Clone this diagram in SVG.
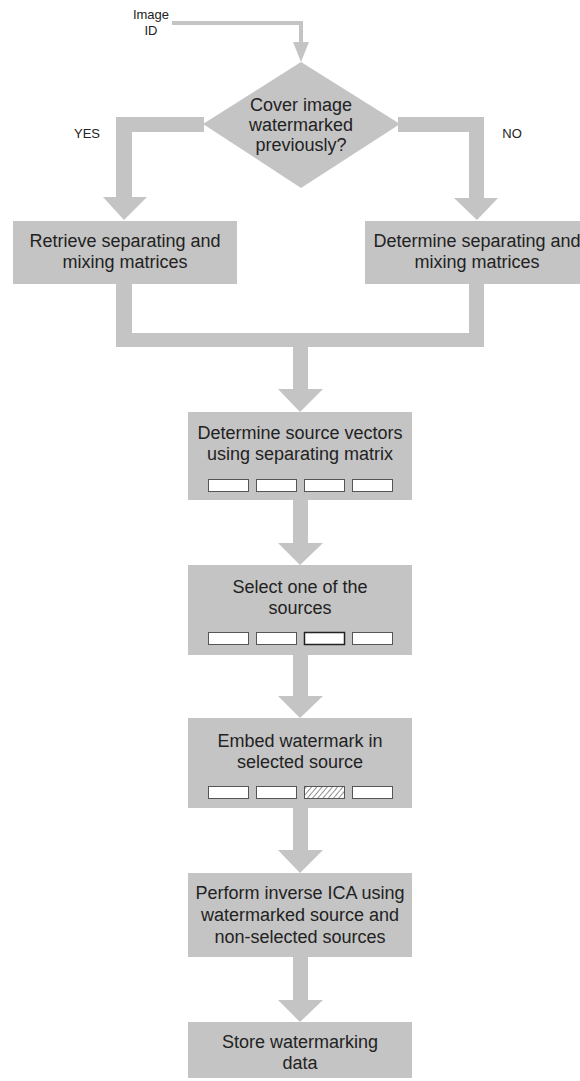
<svg xmlns="http://www.w3.org/2000/svg" width="580" height="1081" viewBox="0 0 580 1081">
<style>
.box{fill:#c4c4c4}
.con{fill:#c4c4c4}
.t{font-family:"Liberation Sans",Arial,sans-serif;font-size:18px;fill:#222;text-anchor:middle}
.s{font-family:"Liberation Sans",Arial,sans-serif;font-size:13px;fill:#222;text-anchor:middle}
.v{fill:#fff;stroke:#555;stroke-width:1}
</style>
<defs>
<pattern id="hatch" width="4" height="4" patternUnits="userSpaceOnUse" patternTransform="rotate(40)">
<line x1="0" y1="0" x2="0" y2="4" stroke="#222" stroke-width="1"/>
</pattern>
</defs>
<rect width="580" height="1081" fill="#fff"/>
<g id="connectors">
<polyline points="172,23 301,23 301,44" fill="none" stroke="#c4c4c4" stroke-width="4"/>
<polygon class="con" points="293,42 309,42 301,62"/>
<polygon class="con" points="204,117 116,117 116,197 103,197 124,220 147,197 132,197 132,132 204,132"/>
<polygon class="con" points="398,117 484,117 484,198 498,198 477,220 454,198 469,198 469,132 398,132"/>
<polygon class="con" points="116,284 132,284 132,333 469,333 469,284 484,284 484,347 308,347 308,389 323,389 300,412 278,389 293,389 293,347 116,347"/>
<polygon class="con" points="293,500 308,500 308,543 323,543 300,565 278,543 293,543"/>
<polygon class="con" points="293,655 308,655 308,696 323,696 300,718 278,696 293,696"/>
<polygon class="con" points="293,808 308,808 308,850 323,850 300,873 278,850 293,850"/>
<polygon class="con" points="293,957 308,957 308,1000 323,1000 300,1022 278,1000 293,1000"/>
</g>
<g id="image-id">
<text class="s" x="151" y="19">Image</text>
<text class="s" x="151" y="35">ID</text>
</g>
<g id="decision">
<polygon class="box" points="301,62 400,124 301,188 203,124"/>
<text class="t" x="301" y="111">Cover image</text>
<text class="t" x="301" y="131">watermarked</text>
<text class="t" x="301" y="151">previously?</text>
</g>
<g id="label-yes"><text class="s" x="87" y="138">YES</text></g>
<g id="label-no"><text class="s" x="512" y="138">NO</text></g>
<g id="retrieve">
<rect class="box" x="13" y="221" width="224" height="63"/>
<text class="t" x="125" y="247">Retrieve separating and</text>
<text class="t" x="125" y="268">mixing matrices</text>
</g>
<g id="determine">
<rect class="box" x="365" y="221" width="224" height="63"/>
<text class="t" x="477" y="247">Determine separating and</text>
<text class="t" x="477" y="268">mixing matrices</text>
</g>
<g id="source-vectors">
<rect class="box" x="188" y="412" width="224" height="88"/>
<text class="t" x="300" y="439">Determine source vectors</text>
<text class="t" x="300" y="460">using separating matrix</text>
<rect class="v" x="208.5" y="479.5" width="40" height="12"/>
<rect class="v" x="256.5" y="479.5" width="40" height="12"/>
<rect class="v" x="304.5" y="479.5" width="40" height="12"/>
<rect class="v" x="352.5" y="479.5" width="40" height="12"/>
</g>
<g id="select">
<rect class="box" x="188" y="565" width="224" height="90"/>
<text class="t" x="300" y="593">Select one of the</text>
<text class="t" x="300" y="614">sources</text>
<rect class="v" x="208.5" y="632.5" width="40" height="12"/>
<rect class="v" x="256.5" y="632.5" width="40" height="12"/>
<rect x="304.5" y="632.5" width="40" height="12" fill="#fff" stroke="#222" stroke-width="1.5"/>
<rect class="v" x="352.5" y="632.5" width="40" height="12"/>
</g>
<g id="embed">
<rect class="box" x="188" y="718" width="224" height="90"/>
<text class="t" x="300" y="747">Embed watermark in</text>
<text class="t" x="300" y="768">selected source</text>
<rect class="v" x="208.5" y="786.5" width="40" height="12"/>
<rect class="v" x="256.5" y="786.5" width="40" height="12"/>
<rect x="304.5" y="786.5" width="40" height="12" fill="#fff"/>
<rect x="304.5" y="786.5" width="40" height="12" fill="url(#hatch)" stroke="#555" stroke-width="1"/>
<rect class="v" x="352.5" y="786.5" width="40" height="12"/>
</g>
<g id="inverse-ica">
<rect class="box" x="188" y="873" width="224" height="84"/>
<text class="t" x="300" y="899">Perform inverse ICA using</text>
<text class="t" x="300" y="921">watermarked source and</text>
<text class="t" x="300" y="943">non-selected sources</text>
</g>
<g id="store">
<rect class="box" x="188" y="1022" width="224" height="56"/>
<text class="t" x="300" y="1048">Store watermarking</text>
<text class="t" x="300" y="1069">data</text>
</g>
</svg>
